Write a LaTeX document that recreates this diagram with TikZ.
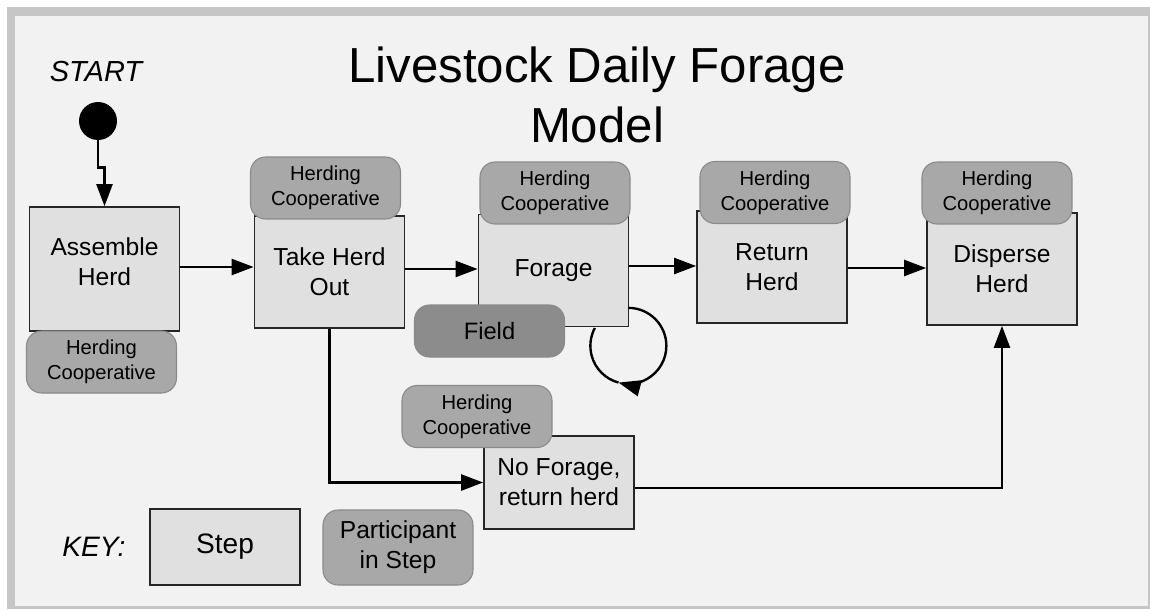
\documentclass[tikz,border=0pt]{standalone}
\usepackage{fontspec}
\setmainfont{Liberation Sans}
\usetikzlibrary{arrows.meta}

\definecolor{pagebg}{HTML}{F2F2F2}
\definecolor{framegray}{HTML}{C6C6C6}
\definecolor{stepfill}{HTML}{E0E0E0}
\definecolor{partfill}{HTML}{A8A8A8}
\definecolor{partline}{HTML}{8A8A8A}
\definecolor{fieldfill}{HTML}{8C8C8C}

\tikzset{
  stepbox/.style={draw=black!85,line width=1pt,fill=stepfill,align=center,
    minimum width=3cm,minimum height=2.24cm,inner sep=2pt,
    font=\fontsize{14}{17}\selectfont},
  partbox/.style={draw=partline,line width=0.6pt,fill=partfill,rounded corners=0.3cm,
    align=center,minimum width=3cm,minimum height=1.24cm,inner sep=1pt,
    font=\fontsize{11.5}{14}\selectfont},
  flow/.style={line width=1.35pt,-{Triangle[length=0.44cm,width=0.32cm]}},
  plain/.style={line width=1.35pt}
}

\begin{document}
\begin{tikzpicture}[x=0.02cm,y=-0.02cm]
\useasboundingbox (0,0) rectangle (1150,609);
\fill[white] (0,0) rectangle (1150,609);
\fill[framegray] (7,7) rectangle (1150,609);
\fill[pagebg] (15,16) rectangle (1148,606);

% title and start
\node (title) at (597,95) [align=center,font=\fontsize{28}{34}\selectfont] {Livestock Daily Forage\\Model};
\node (starttext) at (96,72) [font=\fontsize{16.5}{20}\selectfont\itshape] {START};
\node (start) at (98,121) [circle,fill=black,minimum size=0.76cm,inner sep=0pt] {};

% steps
\node (assemble) at (104.5,269) [stepbox,minimum height=2.48cm] {};
\node (assembletext) at ([yshift=0.14cm]assemble.center) [align=center,font=\fontsize{14}{17}\selectfont] {Assemble\\Herd};
\node (takeout) at (329.5,272) [stepbox] {Take Herd\\Out};
\node (forage) at (553.5,270.5) [stepbox] {Forage};
\node (returnherd) at (772,267) [stepbox] {Return\\Herd};
\node (disperse) at (1002,269) [stepbox] {Disperse\\Herd};
\node (noforage) at (559,482.5) [stepbox,minimum height=1.86cm] {No Forage,\\return herd};

% participants
\node (coopA) at (101.5,362) [partbox] {Herding\\Cooperative};
\node (coopB) at (325.5,188) [partbox] {Herding\\Cooperative};
\node (coopC) at (555,193) [partbox] {Herding\\Cooperative};
\node (field) at (489.5,331) [partbox,fill=fieldfill,minimum height=1.04cm,
  font=\fontsize{13.5}{16}\selectfont] {Field};
\node (coopD) at (775,192.5) [partbox] {Herding\\Cooperative};
\node (coopE) at (997,193) [partbox] {Herding\\Cooperative};
\node (coopF) at (477,416.5) [partbox] {Herding\\Cooperative};

% connectors
\draw[flow] (start.south) -- ++(0,27) -| (assemble.north);
\draw[flow] (assemble.east |- 0,267) -- (takeout.west |- 0,267);
\draw[flow] (takeout.east |- 0,269) -- (forage.west |- 0,269);
\draw[flow] (forage.east |- 0,266) -- (returnherd.west |- 0,266);
\draw[flow] (returnherd.east |- 0,268) -- (disperse.west |- 0,268);
\draw[flow] (takeout.south) |- (noforage.west);
\draw[flow] (noforage.east |- 0,488) -| (disperse.south);
\draw[flow] ([shift={(-1,-19.5)}]forage.south east) arc[start angle=90,end angle=-105,radius=0.76cm] coordinate (loopend);
\draw[plain] (loopend) arc[start angle=-105,end angle=-208,radius=0.76cm];

% key
\node (keytext) at (94,547) [font=\fontsize{16}{20}\selectfont\itshape] {KEY:};
\node (keystep) at (225,547) [stepbox,minimum height=1.52cm,font=\fontsize{16}{20}\selectfont] {Step};
\node (keypart) at (398,547.5) [partbox,minimum height=1.5cm,font=\fontsize{14}{17}\selectfont] {Participant\\in Step};
\end{tikzpicture}
\end{document}
